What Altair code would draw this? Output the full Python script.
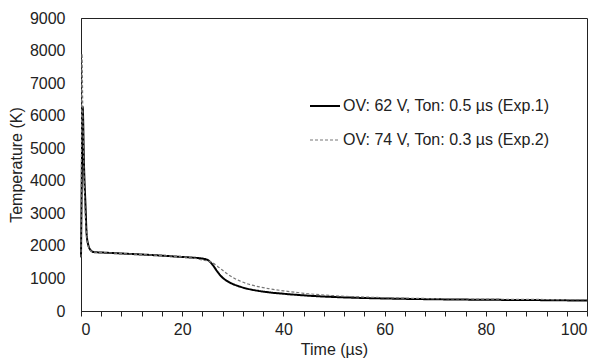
import altair as alt
import pandas as pd

# Exp.1: OV 62 V, Ton 0.5 us (solid)
t1 = [0, 0.15, 0.33, 0.6, 0.9, 1.1, 1.4, 1.9, 2.5, 5, 10, 15, 20, 22, 24, 25, 26, 27, 28, 29, 30, 31, 33, 35, 37, 40, 45, 50, 60, 70, 80, 90, 100]
T1 = [1650, 4000, 6270, 4430, 3200, 2390, 2050, 1870, 1810, 1790, 1750, 1710, 1660, 1640, 1610, 1570, 1420, 1200, 1020, 910, 830, 770, 680, 620, 575, 530, 470, 430, 385, 360, 345, 335, 320]

# Exp.2: OV 74 V, Ton 0.3 us (dashed)
t2 = [0, 0.1, 0.2, 0.35, 0.6, 0.9, 1.2, 1.6, 2.0, 2.5, 5, 10, 15, 20, 22, 23, 24, 25, 26, 27, 28, 29, 30, 31, 33, 35, 37, 40, 45, 50, 60, 70, 80, 90, 100]
T2 = [1650, 5200, 7900, 6200, 4200, 2800, 2200, 1920, 1840, 1810, 1790, 1750, 1710, 1660, 1630, 1600, 1560, 1540, 1480, 1370, 1250, 1130, 1030, 950, 830, 750, 690, 620, 530, 470, 410, 380, 365, 355, 345]

s1 = "OV: 62 V, Ton: 0.5 µs (Exp.1)"
s2 = "OV: 74 V, Ton: 0.3 µs (Exp.2)"
series = [s1, s2]

x_ticks = list(range(0, 101, 4))
y_ticks = list(range(0, 9001, 1000))

df = pd.concat([
    pd.DataFrame({"t": t1, "T": T1, "s": s1, "o": 0}),
    pd.DataFrame({"t": t2, "T": T2, "s": s2, "o": 1}),
])

FONT = "Liberation Sans"
leg = alt.Legend(
    title=None, orient="none", legendX=228, legendY=72,
    symbolType="stroke", symbolSize=900, labelFont=FONT, labelFontSize=16,
    labelColor="#222", rowPadding=10, labelOffset=2, labelLimit=400,
)

chart = alt.Chart(df).mark_line(interpolate="monotone").encode(
    x=alt.X("t:Q", scale=alt.Scale(domain=[0, 100], nice=False),
            axis=alt.Axis(values=x_ticks, title="Time (µs)",
                          labelExpr="datum.value % 20 == 0 ? datum.label : ''",
                          tickSize=5, labelPadding=5, titlePadding=4, grid=False)),
    y=alt.Y("T:Q", scale=alt.Scale(domain=[0, 9000], nice=False),
            axis=alt.Axis(values=y_ticks, title="Temperature (K)", ticks=False, format="d",
                          labelPadding=16, titlePadding=5, grid=False)),
    color=alt.Color("s:N", scale=alt.Scale(domain=series, range=["#000000", "#777777"]), legend=leg),
    strokeDash=alt.StrokeDash("s:N", scale=alt.Scale(domain=series, range=[[1, 0], [3, 2]]), legend=leg),
    strokeWidth=alt.StrokeWidth("s:N", scale=alt.Scale(domain=series, range=[2, 1.2]), legend=leg),
    order="o:Q",
).properties(
    width=506, height=293,
    autosize=alt.AutoSizeParams(type="none"),
    padding={"left": 81, "top": 18, "right": 15, "bottom": 52},
).configure_view(
    stroke="#222", strokeWidth=1
).configure_axis(
    labelFont=FONT, titleFont=FONT, labelFontSize=16, titleFontSize=16,
    labelColor="#222", titleColor="#222", titleFontWeight="normal",
    domainColor="#222", tickColor="#222", domainWidth=1,
)

chart.save("out.html", embed_options={"renderer": "svg", "actions": False})
